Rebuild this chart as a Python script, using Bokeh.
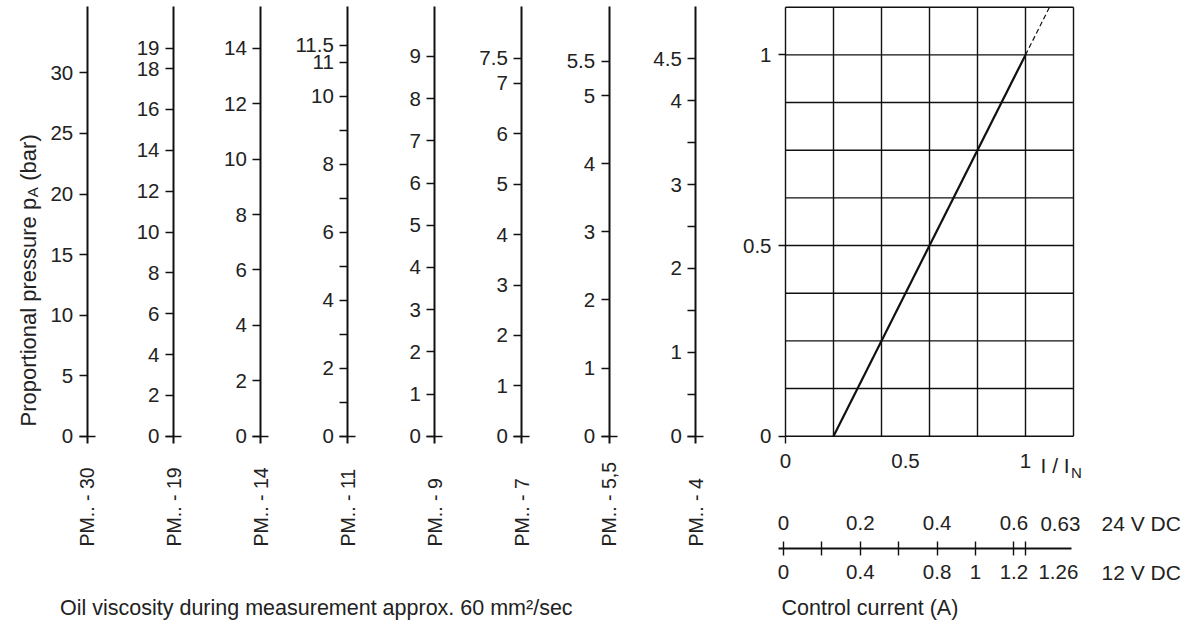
import math
from bokeh.plotting import figure
from bokeh.models import Range1d, LinearAxis, FixedTicker
from bokeh.embed import file_html
from bokeh.resources import INLINE
from bokeh.core.properties import value

# ---------------- data ----------------
scale_names = ["PM.. - 30", "PM.. - 19", "PM.. - 14", "PM.. - 11",
               "PM.. - 9", "PM.. - 7", "PM.. - 5,5", "PM.. - 4"]

pm30_ticks = [0, 5, 10, 15, 20, 25, 30]
pm30_labeled = [0, 5, 10, 15, 20, 25, 30]
pm19_ticks = [0, 2, 4, 6, 8, 10, 12, 14, 16, 18, 19]
pm19_labeled = [0, 2, 4, 6, 8, 10, 12, 14, 16, 18, 19]
pm14_ticks = [0, 2, 4, 6, 8, 10, 12, 14]
pm14_labeled = [0, 2, 4, 6, 8, 10, 12, 14]
pm11_ticks = [0, 1, 2, 3, 4, 5, 6, 7, 8, 9, 10, 11, 11.5]
pm11_labeled = [0, 2, 4, 6, 8, 10, 11, 11.5]
pm9_ticks = [0, 1, 2, 3, 4, 5, 6, 7, 8, 9]
pm9_labeled = [0, 1, 2, 3, 4, 5, 6, 7, 8, 9]
pm7_ticks = [0, 1, 2, 3, 4, 5, 6, 7, 7.5]
pm7_labeled = [0, 1, 2, 3, 4, 5, 6, 7, 7.5]
pm55_ticks = [0, 1, 2, 3, 4, 5, 5.5]
pm55_labeled = [0, 1, 2, 3, 4, 5, 5.5]
pm4_ticks = [0, 0.5, 1, 1.5, 2, 2.5, 3, 3.5, 4, 4.5]
pm4_labeled = [0, 1, 2, 3, 4, 4.5]

scale_ticks = [pm30_ticks, pm19_ticks, pm14_ticks, pm11_ticks,
               pm9_ticks, pm7_ticks, pm55_ticks, pm4_ticks]
scale_labeled = [pm30_labeled, pm19_labeled, pm14_labeled, pm11_labeled,
                 pm9_labeled, pm7_labeled, pm55_labeled, pm4_labeled]

y_title = "Proportional pressure p"
y_title_sub = "A"
y_title_end = "(bar)"
footnote = "Oil viscosity during measurement approx. 60 mm\u00b2/sec"

# characteristic curve  p/pmax  vs  I/IN
curve_x = [0.2, 1.0]
curve_y = [0.0, 1.0]
ext_x = [1.0, 1.1]
ext_y = [1.0, 1.125]
grid_x = [0, 0.2, 0.4, 0.6, 0.8, 1.0, 1.2]
grid_y = [0, 0.125, 0.25, 0.375, 0.5, 0.625, 0.75, 0.875, 1.0, 1.125]
in_ticks = [0, 0.5, 1]
p_ticks = [0, 0.5, 1]
x_title = "I / I"
x_title_sub = "N"

# control current scales
cur24_ticks = [0, 0.1, 0.2, 0.3, 0.4, 0.5, 0.6, 0.63]
cur24_labeled = [0, 0.2, 0.4, 0.6]
cur24_max = 0.63
cur12_labeled = [0, 0.4, 0.8, 1.0, 1.2]
cur12_max = 1.26
label_24 = "24 V DC"
label_12 = "12 V DC"
current_title = "Control current (A)"

# ---------------- style / layout ----------------
FONT = "Liberation Sans"
TXT = "#222222"
INK = "#111111"
W, H = 1190, 620


def fmt(v):
    return "%g" % v


def overrides(ticks, labeled):
    return {float(t): (fmt(t) if t in labeled else "") for t in ticks}


def fy(page_y):
    # figure y (upwards) from a page pixel row
    return H - page_y


ZERO_PAGE_Y = 435.7
axis_x = [86.7, 173.0, 260.3, 347.3, 434.3, 521.3, 608.7, 695.3]
scale_ppu = [12.11, 20.42, 27.71, 34.0, 42.19, 50.39, 68.13, 83.9]

# chart mapping (page px)
IIN_X0, IIN_PPU = 785.0, 240.0
P_PPU = 381.3
# current mapping (page px)
A_X0, A_PPU = 783.0, 384.0
LINE_PAGE_Y = 547.7
BOTTOM_BASELINE = 607

p = figure(width=W, height=H, x_range=Range1d(0, W), y_range=Range1d(0, H),
           output_backend="svg", toolbar_location=None,
           x_axis_type=None, y_axis_type=None, min_border=0,
           outline_line_color=None, background_fill_color="white",
           border_fill_color="white")

z = fy(ZERO_PAGE_Y)
extra_y = {}
for i in range(8):
    extra_y["s%d" % i] = Range1d(-z / scale_ppu[i], (H - z) / scale_ppu[i])
extra_y["p"] = Range1d(-z / P_PPU, (H - z) / P_PPU)
p.extra_y_ranges = extra_y
p.extra_x_ranges = {
    "iin": Range1d(-IIN_X0 / IIN_PPU, (W - IIN_X0) / IIN_PPU),
    "a24": Range1d(-A_X0 / A_PPU, (W - A_X0) / A_PPU),
    "a12": Range1d(-2 * A_X0 / A_PPU, 2 * (W - A_X0) / A_PPU),
}

# ---------------- pressure scales ----------------
for i in range(8):
    ppu = scale_ppu[i]
    rname = "s%d" % i
    ax = LinearAxis(y_range_name=rname, fixed_location=axis_x[i],
                    ticker=FixedTicker(ticks=scale_ticks[i]),
                    major_label_overrides=overrides(scale_ticks[i], scale_labeled[i]),
                    bounds=(-7.5 / ppu, (ZERO_PAGE_Y - 6) / ppu),
                    axis_line_width=2, axis_line_color=INK,
                    major_tick_line_width=1.5, major_tick_line_color=INK,
                    major_tick_out=8, major_tick_in=0,
                    minor_tick_out=0, minor_tick_in=0,
                    major_label_standoff=6,
                    major_label_text_font=FONT, major_label_text_font_size="20.5px",
                    major_label_text_color=TXT)
    p.add_layout(ax, "left")
    zx = LinearAxis(y_range_name=rname, fixed_location=axis_x[i],
                    ticker=FixedTicker(ticks=[0]), major_label_overrides={0.0: ""},
                    axis_line_color=None, major_tick_line_width=1.5,
                    major_tick_line_color=INK, major_tick_out=8, major_tick_in=8,
                    minor_tick_out=0, minor_tick_in=0)
    p.add_layout(zx, "left")

# product labels, rotated
p.text(x=axis_x, y=[fy(546)] * 8, text=scale_names, angle=math.pi / 2,
       text_align="left", text_baseline="middle", text_font=value(FONT),
       text_font_size="19.5px", text_color=TXT)

# y title with subscript
t_x = 27.5
t_y0 = fy(426)
TS = 22.0
SS = 15.0
w1 = 10393 * TS / 1000
w2 = 667 * SS / 1000
w_space = 278 * TS / 1000
p.text(x=[t_x], y=[t_y0], text=[y_title], angle=math.pi / 2, text_align="left",
       text_baseline="alphabetic", text_font=value(FONT), text_font_size="%gpx" % TS,
       text_color=TXT)
p.text(x=[t_x + 4], y=[t_y0 + w1 + 0.5], text=[y_title_sub], angle=math.pi / 2,
       text_align="left", text_baseline="alphabetic", text_font=value(FONT),
       text_font_size="%gpx" % SS, text_color=TXT)
p.text(x=[t_x], y=[t_y0 + w1 + w2 + w_space + 1], text=[y_title_end], angle=math.pi / 2,
       text_align="left", text_baseline="alphabetic", text_font=value(FONT),
       text_font_size="%gpx" % TS, text_color=TXT)

p.text(x=[59.5], y=[fy(BOTTOM_BASELINE)], text=[footnote], text_align="left",
       text_baseline="alphabetic", text_font=value(FONT), text_font_size="21.5px",
       text_color=TXT)

# ---------------- characteristic chart ----------------
p.multi_line(xs=[[g, g] for g in grid_x], ys=[[grid_y[0], grid_y[-1]] for g in grid_x],
             line_color=INK, line_width=1.4, x_range_name="iin", y_range_name="p")
p.multi_line(xs=[[grid_x[0], grid_x[-1]] for g in grid_y], ys=[[g, g] for g in grid_y],
             line_color=INK, line_width=1.4, x_range_name="iin", y_range_name="p")

ya = LinearAxis(x_range_name="iin", y_range_name="p", fixed_location=0,
                ticker=FixedTicker(ticks=p_ticks),
                major_label_overrides={float(t): fmt(t) for t in p_ticks},
                axis_line_color=None, major_tick_out=7, major_tick_in=0,
                major_tick_line_width=1.4, major_tick_line_color=INK,
                minor_tick_out=0, minor_tick_in=0, major_label_standoff=7,
                major_label_text_font=FONT, major_label_text_font_size="20.5px",
                major_label_text_color=TXT)
p.add_layout(ya, "left")

xa = LinearAxis(x_range_name="iin", y_range_name="p", fixed_location=0,
                ticker=FixedTicker(ticks=in_ticks),
                major_label_overrides={float(t): fmt(t) for t in in_ticks},
                axis_line_color=None, major_tick_out=0, major_tick_in=0,
                minor_tick_out=0, minor_tick_in=0, major_label_standoff=18,
                major_label_text_font=FONT, major_label_text_font_size="20.5px",
                major_label_text_color=TXT)
p.add_layout(xa, "below")

x0tick = LinearAxis(x_range_name="iin", y_range_name="p", fixed_location=0,
                    ticker=FixedTicker(ticks=[0]), major_label_overrides={0.0: ""},
                    axis_line_color=None, major_tick_out=7, major_tick_in=0,
                    major_tick_line_width=1.4, major_tick_line_color=INK,
                    minor_tick_out=0, minor_tick_in=0)
p.add_layout(x0tick, "below")

p.line(curve_x, curve_y, line_color=INK, line_width=2.2,
       x_range_name="iin", y_range_name="p")
p.line(ext_x, ext_y, line_color=INK, line_width=1.2, line_dash="5 3",
       x_range_name="iin", y_range_name="p")

p.text(x=[1040.0], y=[fy(465)], text=[x_title], text_align="left",
       text_baseline="middle", text_font=value(FONT), text_font_size="21px",
       text_color=TXT)
p.text(x=[1070.5], y=[fy(472)], text=[x_title_sub], text_align="left",
       text_baseline="middle", text_font=value(FONT), text_font_size="15px",
       text_color=TXT)

# ---------------- control current scale ----------------
a24 = LinearAxis(x_range_name="a24", fixed_location=fy(LINE_PAGE_Y),
                 ticker=FixedTicker(ticks=cur24_ticks),
                 major_label_overrides=overrides(cur24_ticks, cur24_labeled),
                 bounds=(-5.5 / A_PPU, (1071 - A_X0) / A_PPU),
                 axis_line_width=2, axis_line_color=INK,
                 major_tick_out=7, major_tick_in=7, major_tick_line_width=1.4,
                 major_tick_line_color=INK, minor_tick_out=0, minor_tick_in=0,
                 major_label_standoff=11, major_label_text_font=FONT,
                 major_label_text_font_size="20.5px", major_label_text_color=TXT)
p.add_layout(a24, "above")
a12 = LinearAxis(x_range_name="a12", fixed_location=fy(LINE_PAGE_Y),
                 ticker=FixedTicker(ticks=cur12_labeled),
                 major_label_overrides={float(t): fmt(t) for t in cur12_labeled},
                 axis_line_color=None, major_tick_line_color=None,
                 major_tick_out=0, major_tick_in=0, minor_tick_out=0, minor_tick_in=0,
                 major_label_standoff=17, major_label_text_font=FONT,
                 major_label_text_font_size="20.5px", major_label_text_color=TXT)
p.add_layout(a12, "below")

p.text(x=[cur24_max], y=[fy(523.3)], text=[fmt(cur24_max)], x_offset=35,
       text_align="center", text_baseline="middle", text_font=value(FONT),
       text_font_size="20.5px", text_color=TXT, x_range_name="a24")
p.text(x=[cur12_max], y=[fy(571.7)], text=[fmt(cur12_max)], x_offset=33,
       text_align="center", text_baseline="middle", text_font=value(FONT),
       text_font_size="20.5px", text_color=TXT, x_range_name="a12")
p.text(x=[1101.0, 1101.0], y=[fy(523.3), fy(571.7)], text=[label_24, label_12],
       text_align="left", text_baseline="middle", text_font=value(FONT),
       text_font_size="21px", text_color=TXT)
p.text(x=[781.0], y=[fy(BOTTOM_BASELINE)], text=[current_title],
       text_align="left", text_baseline="alphabetic", text_font=value(FONT),
       text_font_size="21.5px", text_color=TXT)

open("out.html", "w").write(file_html(p, INLINE))
